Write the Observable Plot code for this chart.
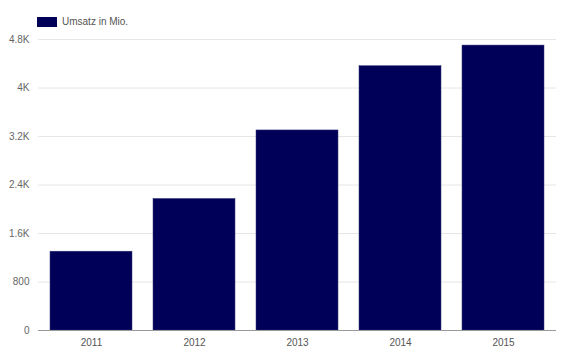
<!DOCTYPE html>
<html>
<head>
<meta charset="utf-8">
<script src="https://cdn.jsdelivr.net/npm/d3@7"></script>
<script src="https://cdn.jsdelivr.net/npm/@observablehq/plot@0.6"></script>
<style>
  html, body { margin: 0; padding: 0; background: #fff; }
  body { width: 570px; height: 357px; overflow: hidden; font-family: "Liberation Sans", Arial, sans-serif; }
  #legend { height: 33px; position: relative; }
  #legend .sw { position: absolute; left: 37px; top: 17px; width: 20px; height: 10px; background: #000058; }
  #legend .lb { position: absolute; left: 62px; top: 15px; font-size: 10px; color: #555; line-height: 14px; }
  svg { display: block; }
</style>
</head>
<body>
<div id="legend"><div class="sw"></div><div class="lb">Umsatz in Mio.</div></div>
<div id="chart"></div>
<script>
const years = ["2011", "2012", "2013", "2014", "2015"];
const umsatz = [1300, 2170, 3300, 4360, 4700];
const yTicks = [0, 800, 1600, 2400, 3200, 4000, 4800];
const seriesName = "Umsatz in Mio.";

const data = years.map((y, i) => ({year: y, value: umsatz[i]}));
const fmt = d => d >= 1000 ? (d / 1000) + "K" : String(d);

const chart = Plot.plot({
  width: 570,
  height: 324,
  marginTop: 6,
  marginBottom: 27,
  marginLeft: 38,
  marginRight: 14,
  style: {fontFamily: "'Liberation Sans', Arial, sans-serif", fontSize: "10px", color: "#666", background: "#fff"},
  x: {domain: years, paddingInner: 0.2, paddingOuter: 0.1, label: null},
  y: {domain: [0, 4800], label: null},
  marks: [
    Plot.gridY(yTicks, {stroke: "#e6e6e6", strokeOpacity: 1}),
    Plot.barY(data, {x: "year", y: "value", fill: "#000058", stroke: "#3a3a7c", strokeWidth: 0.5, insetLeft: 0, insetRight: 0}),
    Plot.ruleY([0], {stroke: "#999", strokeWidth: 1}),
    Plot.axisY(yTicks, {tickFormat: fmt, tickSize: 0, tickPadding: 9, fill: "#666", fontSize: 10}),
    Plot.axisX({tickSize: 0, tickPadding: 8, fill: "#555", fontSize: 10})
  ]
});
document.getElementById("chart").appendChild(chart);
</script>
</body>
</html>
